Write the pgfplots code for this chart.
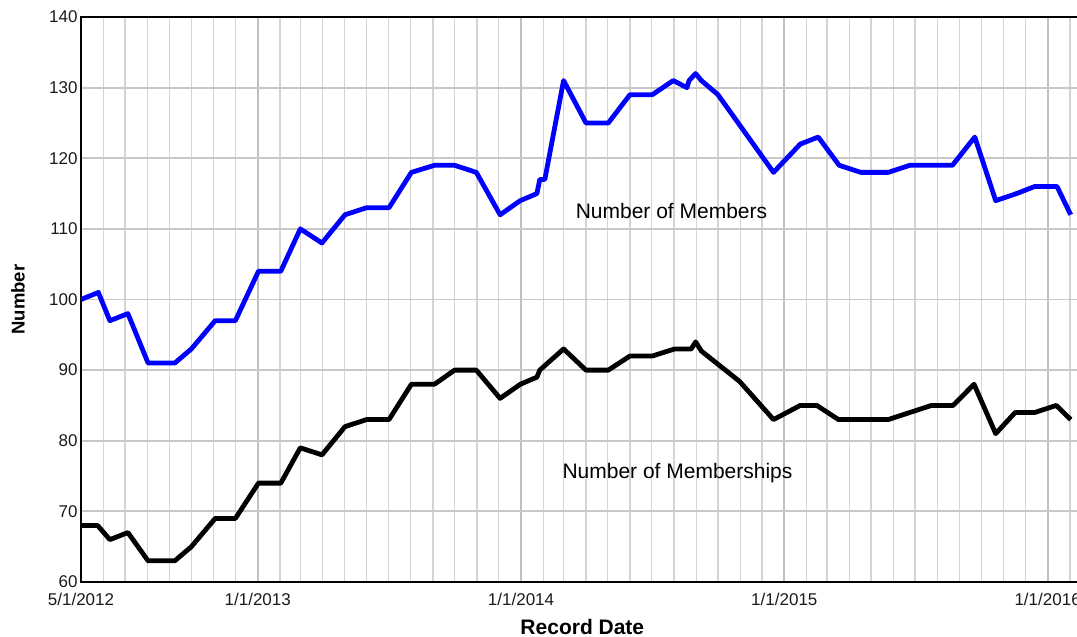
\documentclass[border=0pt]{standalone}
\usepackage{fontspec}
\setmainfont{Liberation Sans}
\usepackage{pgfplots}
\pgfplotsset{compat=1.18}
\definecolor{minorgrid}{HTML}{D4D4D4}
\definecolor{majorgrid}{HTML}{C0C0C0}
\definecolor{ygrid}{HTML}{C8C8C8}
\definecolor{tickgray}{HTML}{1A1A1A}
\begin{document}
\begin{tikzpicture}
\begin{axis}[
  at={(81pt,55pt)}, anchor=south west,
  scale only axis, width=1002.7pt, height=565pt,
  xmin=0, xmax=1390, ymin=60, ymax=140,
  xtick={0,245,610,975,1340},
  xticklabels={5/1/2012,1/1/2013,1/1/2014,1/1/2015,1/1/2016},
  minor xtick={31,61,92,123,153,184,214,276,304,335,365,396,426,457,488,518,549,579,641,669,700,730,761,791,822,853,883,914,944,1006,1034,1065,1095,1126,1156,1187,1218,1248,1279,1309,1371},
  ytick={60,70,80,90,100,110,120,130,140},
  xmajorgrids, xminorgrids, ymajorgrids,
  major x grid style={draw=majorgrid, line width=2pt},
  minor x grid style={draw=minorgrid, line width=1.5pt},
  major y grid style={draw=ygrid, line width=1.8pt},
  major tick length=0pt, minor tick length=0pt,
  axis line style={line width=2.4pt},
  tick label style={font=\fontsize{17}{20}\selectfont, text=tickgray},
  /pgf/number format/assume math mode=true,
  xticklabel style={yshift=-8pt},
  xlabel={Record Date}, ylabel={Number},
  xlabel style={font=\bfseries\fontsize{21}{24}\selectfont, at={(axis description cs:0.5,-0.0795)}, anchor=center, inner sep=0pt},
  ylabel style={font=\bfseries\fontsize{18.5}{22}\selectfont, at={(axis description cs:-0.0628,0.5)}, anchor=center},
]
\addplot[blue, line width=4.8pt, line join=round] coordinates {
(0,100) (24,101) (40,97) (65,98) (93,91) (130,91) (153,93) (186,97) (214,97)
(246,104) (277,104) (304,110) (334,108) (366,112) (396,113) (427,113) (458,118)
(490,119) (518,119) (548,118) (581,112) (609,114) (632,115) (636,117) (643,117)
(669,131) (700,125) (731,125) (761,129) (792,129) (821,131) (840,130) (843,131)
(852,132) (860,131) (883,129) (960,118) (997,122) (1022,123) (1051,119) (1081,118)
(1119,118) (1149,119) (1208,119) (1239,123) (1268,114) (1297,115) (1322,116)
(1353,116) (1372,112)
};
\addplot[black, line width=4.8pt, line join=round] coordinates {
(0,68) (23,68) (40,66) (65,67) (93,63) (130,63) (153,65) (186,69) (214,69)
(246,74) (277,74) (304,79) (334,78) (366,82) (396,83) (427,83) (458,88)
(490,88) (518,90) (548,90) (581,86) (609,88) (632,89) (636,90) (669,93)
(700,90) (731,90) (761,92) (792,92) (823,93) (846,93) (852,94) (860,92.7)
(913,88.4) (960,83) (997,85) (1020,85) (1050,83) (1119,83) (1149,84) (1179,85)
(1209,85) (1238,88) (1268,81) (1295,84) (1322,84) (1352,85) (1372,83)
};
\node[font=\fontsize{21}{24}\selectfont, anchor=base] at (axis cs:818.6,111.5) {Number of Members};
\node[font=\fontsize{21}{24}\selectfont, anchor=base] at (axis cs:826.9,74.7) {Number of Memberships};
\end{axis}
\pgfresetboundingbox
\path (0pt,0pt) rectangle (1077pt,637pt);
\end{tikzpicture}
\end{document}
